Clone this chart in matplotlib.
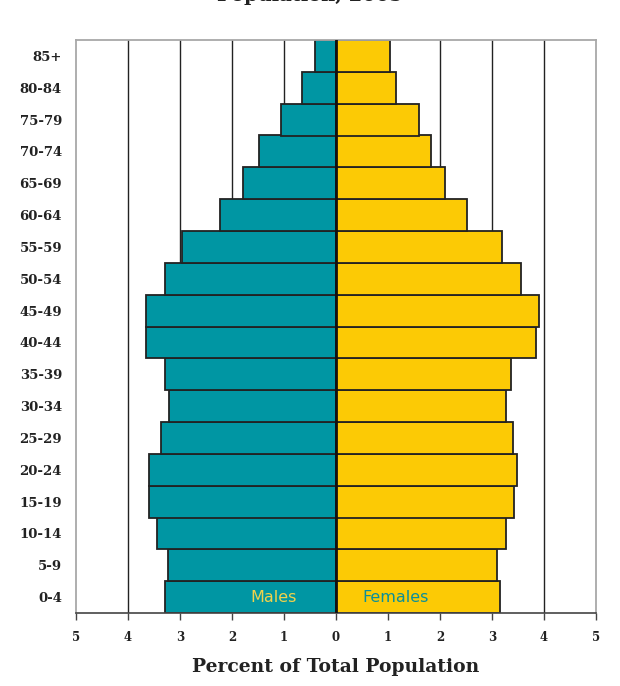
import numpy as np
import matplotlib
matplotlib.use('Agg')
import matplotlib.pyplot as plt

# ===================== Dados =====================

grupos = ['0-4', '5-9', '10-14', '15-19', '20-24', '25-29', '30-34', '35-39',
          '40-44', '45-49', '50-54', '55-59', '60-64', '65-69', '70-74',
          '75-79', '80-84', '85+']
homens = [3.29, 3.24, 3.45, 3.60, 3.60, 3.37, 3.21, 3.28,
          3.66, 3.66, 3.29, 2.96, 2.23, 1.78, 1.48, 1.06, 0.66, 0.40]
mulheres = [3.16, 3.10, 3.27, 3.43, 3.49, 3.41, 3.27, 3.37,
            3.84, 3.91, 3.55, 3.20, 2.52, 2.10, 1.83, 1.60, 1.16, 1.04]
ticks_x = [-5, -4, -3, -2, -1, 0, 1, 2, 3, 4, 5]

azul = '#0096a3'
amarelo = '#fcca05'
serif = ['DejaVu Serif']

# ===================== Grafico =====================

fig = plt.figure(figsize=(6.2, 6.86), dpi=100)
ax = fig.add_axes([76/620, 1 - 613/686, 520/620, 573/686])

y = np.arange(len(grupos))
for x in ticks_x:
    if x not in (-5, 0, 5):
        ax.axvline(x, color='#222222', lw=1.0, zorder=1)

ax.barh(y, [-h for h in homens], height=1.0, color=azul, edgecolor='#222222',
        lw=1.3, zorder=2)
ax.barh(y, mulheres, height=1.0, color=amarelo, edgecolor='#222222',
        lw=1.3, zorder=2)
ax.axvline(0, color='#111111', lw=2.0, zorder=3)

ax.set_xlim(-5, 5)
ax.set_ylim(-0.5, len(grupos) - 0.5)
ax.set_xticks(ticks_x)
ax.set_xticklabels([str(abs(t)) for t in ticks_x], fontfamily=serif,
                   fontweight='bold', fontsize=8.5, color='#222222')
ax.set_yticks(y)
ax.set_yticklabels(grupos, fontfamily=serif, fontweight='bold', fontsize=9.5,
                   color='#222222')
ax.tick_params(axis='y', length=0, pad=10)
ax.tick_params(axis='x', direction='out', length=5, width=1, color='#444444', pad=8)

for lado in ('left', 'right', 'top'):
    ax.spines[lado].set_color('#a8a8a8')
    ax.spines[lado].set_linewidth(1.3)
ax.spines['bottom'].set_color('#444444')
ax.spines['bottom'].set_linewidth(1.2)

ax.text(-1.2, 0, 'Males', color='#f2d24a', fontsize=11.5, ha='center',
        va='center', zorder=4)
ax.text(1.15, 0, 'Females', color='#0a8f99', fontsize=11.5, ha='center',
        va='center', zorder=4)

ax.set_xlabel('Percent of Total Population', fontfamily=serif,
              fontweight='bold', fontsize=13.5, color='#222222', labelpad=10)

fig.text(0.5, 1 - 1/686, 'Population, 2005', fontfamily=serif,
         fontweight='bold', fontsize=14, ha='center', va='baseline',
         color='#222222')

plt.savefig('out.png', dpi=100)
plt.close()
